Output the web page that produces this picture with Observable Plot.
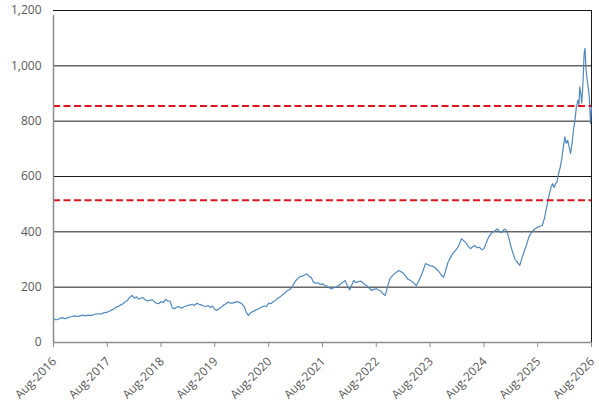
<!DOCTYPE html>
<html>
<head>
<meta charset="utf-8">
<script src="https://cdn.jsdelivr.net/npm/d3@7"></script>
<script src="https://cdn.jsdelivr.net/npm/@observablehq/plot@0.6"></script>
<style>
  html, body { margin: 0; padding: 0; background: #fff; }
  #chart { width: 599px; height: 407px; }
  #chart svg { overflow: visible; }
</style>
</head>
<body>
<div id="chart"></div>
<script>
const dates = [
  "2016-08-01","2016-08-16","2016-09-01","2016-09-16","2016-10-01","2016-10-16","2016-11-01","2016-11-16","2016-12-01","2016-12-16",
  "2017-01-01","2017-01-16","2017-02-01","2017-02-16","2017-03-01","2017-03-16","2017-04-01","2017-04-16","2017-05-01","2017-05-16",
  "2017-06-01","2017-06-16","2017-07-01","2017-07-16","2017-08-01","2017-08-16","2017-09-01","2017-09-16","2017-10-01","2017-10-16",
  "2017-11-01","2017-11-16","2017-12-01","2017-12-16",
  "2018-01-01","2018-01-16","2018-02-01","2018-02-16","2018-03-01","2018-03-16","2018-04-01","2018-04-16","2018-05-01","2018-05-16",
  "2018-06-01","2018-06-16","2018-07-01","2018-07-16","2018-08-01","2018-08-16","2018-09-01","2018-09-16","2018-10-01","2018-10-16",
  "2018-11-01","2018-11-16","2018-12-01","2018-12-16",
  "2019-01-01","2019-01-16","2019-02-01","2019-02-16","2019-03-01","2019-03-16","2019-04-01","2019-04-16","2019-05-01","2019-05-16",
  "2019-06-01","2019-06-16","2019-07-01","2019-07-16","2019-08-01","2019-08-16","2019-09-01","2019-09-16","2019-10-01","2019-10-16",
  "2019-11-01","2019-11-16","2019-12-01","2019-12-16",
  "2020-01-01","2020-01-16","2020-02-01","2020-02-16","2020-03-01","2020-03-16","2020-04-01","2020-04-16","2020-05-01","2020-05-16",
  "2020-06-01","2020-06-16","2020-07-01","2020-07-16","2020-08-01","2020-08-16","2020-09-01","2020-09-16","2020-10-01","2020-10-16",
  "2020-11-01","2020-11-16","2020-12-01","2020-12-16",
  "2021-01-01","2021-01-16","2021-02-01","2021-02-16","2021-03-01","2021-03-16","2021-04-01","2021-04-16","2021-05-01","2021-05-16",
  "2021-06-01","2021-06-16","2021-07-01","2021-07-16","2021-08-01","2021-08-16","2021-09-01","2021-09-16","2021-10-01","2021-10-16",
  "2021-11-01","2021-11-16","2021-12-01","2021-12-16",
  "2022-01-01","2022-01-16","2022-02-01","2022-02-16","2022-03-01","2022-03-16","2022-04-01","2022-04-16","2022-05-01","2022-05-16",
  "2022-06-01","2022-06-16","2022-07-01","2022-07-16","2022-08-01","2022-08-16","2022-09-01","2022-09-16","2022-10-01","2022-10-16",
  "2022-11-01","2022-11-16","2022-12-01","2022-12-16",
  "2023-01-01","2023-01-16","2023-02-01","2023-02-16","2023-03-01","2023-03-16","2023-04-01","2023-04-16","2023-05-01","2023-05-16",
  "2023-06-01","2023-06-16","2023-07-01","2023-07-16","2023-08-01","2023-08-16","2023-09-01","2023-09-16","2023-10-01","2023-10-16",
  "2023-11-01","2023-11-16","2023-12-01","2023-12-16",
  "2024-01-01","2024-01-16","2024-02-01","2024-02-16","2024-03-01","2024-03-16","2024-04-01","2024-04-16","2024-05-01","2024-05-16",
  "2024-06-01","2024-06-16","2024-07-01","2024-07-16","2024-08-01","2024-08-16","2024-09-01","2024-09-16","2024-10-01","2024-10-16",
  "2024-11-01","2024-11-16","2024-12-01","2024-12-16",
  "2025-01-01","2025-01-16","2025-02-01","2025-02-16","2025-03-01","2025-03-16","2025-04-01","2025-04-16","2025-05-01","2025-05-16",
  "2025-06-01","2025-06-16","2025-07-01","2025-07-16","2025-08-01","2025-08-16","2025-09-01","2025-09-16","2025-10-01","2025-10-16",
  "2025-11-01","2025-11-10","2025-11-20","2025-12-01","2025-12-10","2025-12-20",
  "2026-01-01","2026-01-10","2026-01-20","2026-02-01","2026-02-10","2026-02-20","2026-03-01","2026-03-12","2026-03-22",
  "2026-04-01","2026-04-10","2026-04-20","2026-05-01","2026-05-08","2026-05-13","2026-05-20","2026-05-27",
  "2026-06-05","2026-06-12","2026-06-18","2026-06-25","2026-07-05","2026-07-12","2026-07-18","2026-07-25","2026-08-01"
];
const prices = [
  86,82,84,88,90,86,88,92,93,96,
  95,94,97,99,96,98,99,97,101,103,
  104,102,106,108,110,113,118,122,128,131,
  136,140,148,152,
  163,170,160,165,157,160,162,154,150,152,
  155,147,142,140,148,144,156,150,150,125,
  122,128,130,124,
  128,132,134,136,138,134,142,138,136,132,
  130,134,126,132,120,116,124,128,136,140,
  146,142,142,146,
  148,144,140,130,110,98,108,112,116,120,
  124,128,132,130,142,140,148,152,160,164,
  172,178,186,190,
  196,210,224,232,238,240,244,248,240,236,
  218,214,216,210,212,206,204,198,194,198,
  200,206,210,218,
  224,206,190,208,224,216,220,222,216,210,
  204,196,188,192,194,190,186,176,170,200,
  230,240,248,254,
  260,256,250,240,230,226,220,212,206,222,
  240,262,285,282,278,276,272,264,256,244,
  236,262,290,305,
  321,330,340,355,375,368,360,348,339,346,
  350,342,345,336,339,360,380,392,399,404,
  411,400,398,410,
  405,380,345,320,300,290,279,305,330,351,
  380,395,405,412,417,420,423,450,490,530,
  565,574,560,575,580,610,
  634,660,700,743,720,731,710,683,720,
  770,800,850,876,860,924,900,865,
  950,1045,1063,984,940,912,880,792,850
];
const yGrid = [200, 400, 600, 800, 1000, 1200];
const yTicks = [0, 200, 400, 600, 800, 1000, 1200];
const xTickYears = [2016, 2017, 2018, 2019, 2020, 2021, 2022, 2023, 2024, 2025, 2026];
const levels = [855, 514];

const data = dates.map((d, i) => ({date: new Date(d + "T00:00:00Z"), price: prices[i]}));
const xTicks = xTickYears.map(y => new Date(Date.UTC(y, 7, 1)));
const xMin = xTicks[0], xMax = xTicks[xTicks.length - 1];

const chart = Plot.plot({
  width: 599,
  height: 407,
  marginLeft: 53,
  marginRight: 8,
  marginTop: 10,
  marginBottom: 65,
  x: {type: "utc", domain: [xMin, xMax], label: null},
  y: {domain: [0, 1200], label: null},
  style: {fontFamily: "'Open Sans', sans-serif", fontSize: "12px", color: "#595959", background: "#fff", overflow: "visible"},
  marks: [
    Plot.ruleY(yGrid, {stroke: "#1a1a1a", strokeWidth: 1}),
    Plot.ruleX([xMax], {y1: 0, y2: 1200, stroke: "#1a1a1a", strokeWidth: 1}),
    Plot.line(data, {x: "date", y: "price", stroke: "#5089c0", strokeWidth: 1.2}),
    Plot.ruleY(levels, {stroke: "#e0141e", strokeWidth: 2, strokeDasharray: "7,3.5"}),
    Plot.ruleY([0], {stroke: "#8c8c8c", strokeWidth: 1.5}),
    Plot.ruleX([xMin], {y1: 0, y2: 1200, stroke: "#8c8c8c", strokeWidth: 1.5, insetBottom: -5}),
    Plot.axisY({ticks: yTicks, tickFormat: d3.format(","), tickSize: 0, tickPadding: 12, fill: "#595959", label: null}),
    Plot.axisX({ticks: xTicks, tickFormat: d3.utcFormat("%b-%Y"), tickRotate: -45, tickSize: 5, stroke: "#8c8c8c", fill: "#595959", tickPadding: 4, label: null}),
  ]
});
// nudge rotated x labels to sit slightly lower/right like the reference
chart.querySelectorAll('g[aria-label="x-axis tick label"] text').forEach(t => {
  const tr = t.getAttribute("transform") || "";
  t.setAttribute("transform", "translate(1,8) " + tr);
});
document.getElementById("chart").appendChild(chart);
</script>
</body>
</html>
